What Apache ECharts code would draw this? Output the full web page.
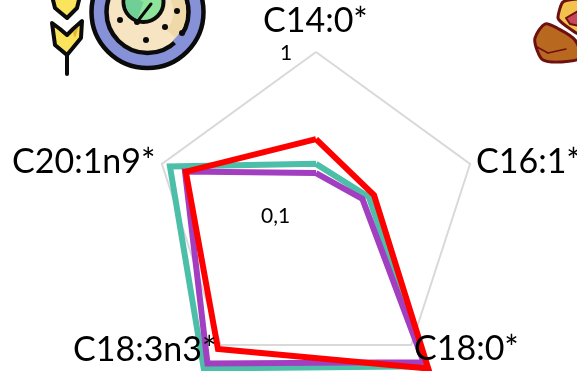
<!DOCTYPE html>
<html><head><meta charset="utf-8">
<style>html,body{margin:0;padding:0;background:#fff}#c{width:577px;height:371px}</style>
<script src="https://cdn.jsdelivr.net/npm/echarts@6/dist/echarts.min.js"></script>
</head><body><div id="c"></div>
<script>
// clockwise from the top; axis is logarithmic (0,1 at centre, 1 at the pentagon)
const categories = ['C14:0*','C16:1*','C18:0*','C18:3n3*','C20:1n9*'];
const tickLabels = ['1','0,1'];
const seriesGreen = [0.204,0.22,1.45,1.51,0.887];
const seriesPurple = [0.179,0.20,1.35,1.38,0.708];
const seriesRed = [0.29,0.238,1.51,1.07,0.70];

// ECharts lays indicators out counter-clockwise
const order = [0,4,3,2,1];
const logValue = v => Math.log10(v) + 1;
const toRadar = d => order.map(i => logValue(d[i]));

const chart = echarts.init(document.getElementById('c'),null,{renderer:'canvas'});
const font = 'Lato, "Open Sans", sans-serif';
const nameTxt = (t,x,y)=>({type:'text',x,y,z:50,style:{text:t,font:'34px '+font,fill:'#000',textVerticalAlign:'middle'}});
const tickTxt = (t,x,y)=>({type:'text',x,y,z:50,style:{text:t,font:'21px '+font,fill:'#000',textVerticalAlign:'middle'}});
const line = (c,d)=>({type:'radar',z:2,symbol:'none',silent:true,lineStyle:{color:c,width:6,join:'miter'},data:[{value:toRadar(d)}]});

const K='#0b0b0b';
const poly=(points,fill,stroke,lw,smooth)=>({type:'polygon',z:10,shape:{points,smooth:smooth||0},style:{fill,stroke,lineWidth:lw||0,lineJoin:'round'}});
const circ=(cx,cy,r,fill,stroke,lw)=>({type:'circle',z:10,shape:{cx,cy,r},style:{fill,stroke,lineWidth:lw||0}});
const seg=(x1,y1,x2,y2,c,w)=>({type:'line',z:10,shape:{x1,y1,x2,y2},style:{stroke:c,lineWidth:w,lineCap:'round'}});
const dots=[[120,20],[137,22],[165,27],[146,40],[177,11],[182,33]];
const icons=[
  seg(67,50,67,74,K,4),
  poly([[51,-8],[55,8],[67,18],[77,8],[81,-8]],'#F9E45B',K,4),
  poly([[52,23],[60,29],[67,35],[73,29],[82,21],[81,38],[67,55],[55,45]],'#F9E45B',K,4),
  poly([[73,33],[79,26],[75,38]],'#E9B52F'),
  circ(147.5,12,56,'#8791D8',K,4.5),
  circ(147.5,12,41,'#F6E4C3',K,4.5),
  {type:'sector',z:10,shape:{cx:147.5,cy:12,r:38.5,r0:26,startAngle:-0.7,endAngle:0.75},style:{fill:'#F0D9A8'}},
  {type:'arc',z:11,shape:{cx:147.5,cy:12,r:41,startAngle:0.55,endAngle:0.85},style:{stroke:'#8791D8',lineWidth:5.5,fill:'none'}},
  circ(143.5,2,20,'#8EE49A',K,4),
  {type:'sector',z:11,shape:{cx:143.5,cy:2,r:18,startAngle:1.9,endAngle:3.6},style:{fill:'#6FCF97'}},
  seg(137,22,151,4,K,3),
  ...dots.map(d=>({type:'circle',z:12,shape:{cx:d[0],cy:d[1],r:3},style:{fill:K}})),
  poly([[558,18],[563,2],[580,0],[580,34],[566,26]],'#F2C14E','#6E1010',3,0.2),
  poly([[566,18],[580,10],[580,26],[570,24]],'#C9455A','#6E1010',2),
  poly([[535,38],[545,24],[557,28],[575,40],[580,58],[560,62],[543,60],[537,50]],'#B8681F','#6E1010',3,0.3),
  seg(537,47,548,53,'#6E1010',1.5),seg(548,53,566,49,'#6E1010',1.5)
];

chart.setOption({
  animation:false,
  radar:{center:[316,214],radius:162,startAngle:90,shape:'polygon',splitNumber:1,
    indicator:order.map(i=>({name:categories[i],min:0,max:1})),
    axisName:{show:false},axisLine:{show:false},axisTick:{show:false},axisLabel:{show:false},
    splitArea:{show:false},splitLine:{lineStyle:{color:'#D9D9D9',width:2}}},
  series:[line('#4DBFA8',seriesGreen),line('#A23EC0',seriesPurple),line('#FF0000',seriesRed)],
  graphic:[
    ...icons,
    nameTxt(categories[0],263,21),nameTxt(categories[1],476,162),nameTxt(categories[2],414,349),
    nameTxt(categories[3],73,350),nameTxt(categories[4],12,162),
    tickTxt(tickLabels[0],280,53),tickTxt(tickLabels[1],261,216)
  ]
});
</script></body></html>
